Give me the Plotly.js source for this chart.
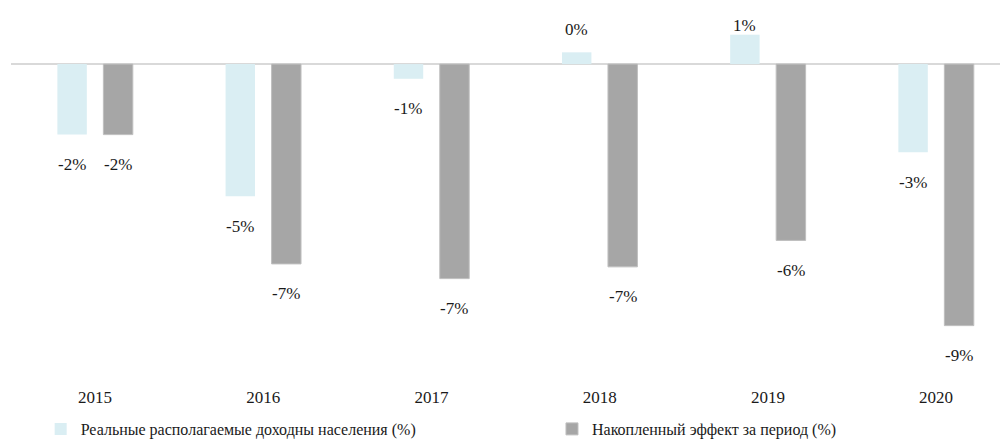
<!DOCTYPE html>
<html>
<head>
<meta charset="utf-8">
<script src="https://cdn.plot.ly/plotly-3.0.1.min.js"></script>
<style>body{margin:0;background:#fff}#chart{width:1008px;height:446px}</style>
</head>
<body>
<div id="chart"></div>
<script>
const years = ["2015", "2016", "2017", "2018", "2019", "2020"];
const realIncome = [-2.4, -4.5, -0.5, 0.4, 1.0, -3.0];
const cumulative = [-2.4, -6.8, -7.3, -6.9, -6.0, -8.9];
const realIncomeLabels = ["-2%", "-5%", "-1%", "0%", "1%", "-3%"];
const cumulativeLabels = ["-2%", "-7%", "-7%", "-7%", "-6%", "-9%"];
const seriesNames = ["Реальные располагаемые доходны населения (%)", "Накопленный эффект за период (%)"];

const FONT = "Liberation Serif";
const txtFont = {family: FONT, size: 17, color: "#1a1a1a"};
const traces = [
  {type: "bar", name: seriesNames[0], x: years, y: realIncome,
   marker: {color: "#DAEEF3"}, legend: "legend"},
  {type: "bar", name: seriesNames[1], x: years, y: cumulative,
   marker: {color: "#A6A6A6", line: {color: "#bfbfbf", width: 1}}, legend: "legend2"}
];

// value labels: category axis annotations use the category's serial index
function labelAnn(idx, v, txt, dx) {
  const up = v >= 0;
  return {x: idx, y: v, xref: "x", yref: "y", text: txt, showarrow: false,
    xshift: dx, yshift: up ? (v > 0.7 ? 9 : 23) : -30, yanchor: "middle",
    font: txtFont};
}
const annotations = [];
years.forEach((y, i) => {
  annotations.push(labelAnn(i, realIncome[i], realIncomeLabels[i], -23));
  annotations.push(labelAnn(i, cumulative[i], cumulativeLabels[i], 23));
});

const legFont = {family: FONT, size: 16, color: "#1a1a1a"};
const layout = {
  width: 1008, height: 446,
  margin: {l: 11, r: 8, t: 10, b: 61},
  paper_bgcolor: "#ffffff", plot_bgcolor: "#ffffff",
  font: {family: FONT, size: 17, color: "#1a1a1a"},
  barmode: "group", bargap: 0.453, bargroupgap: 0.36,
  showlegend: true,
  legend: {orientation: "h", x: 0.03, xanchor: "left", y: -0.015, yref: "container", yanchor: "bottom",
    font: legFont, bgcolor: "rgba(0,0,0,0)"},
  legend2: {orientation: "h", x: 0.547, xanchor: "left", y: -0.015, yref: "container", yanchor: "bottom",
    font: legFont, bgcolor: "rgba(0,0,0,0)"},
  xaxis: {type: "category", range: [-0.5, 5.38], showline: false, showgrid: false, ticks: "",
    zeroline: false, tickfont: {family: FONT, size: 17, color: "#1a1a1a"}, fixedrange: true},
  yaxis: {range: [-10.92, 1.84], showgrid: false, showticklabels: false, ticks: "",
    zeroline: true, zerolinecolor: "#d9d9d9", zerolinewidth: 2, showline: false, fixedrange: true},
  annotations: annotations
};
Plotly.newPlot("chart", traces, layout, {displayModeBar: false});
</script>
</body>
</html>
